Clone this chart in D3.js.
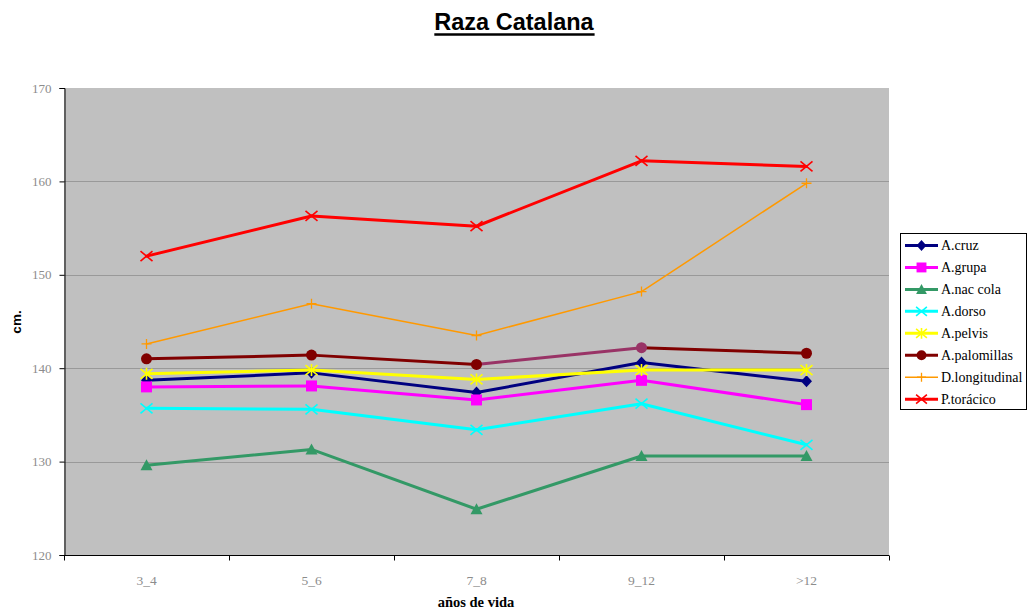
<!DOCTYPE html>
<html>
<head>
<meta charset="utf-8">
<script src="https://cdn.jsdelivr.net/npm/d3@7"></script>
<style>
  html, body { margin: 0; padding: 0; background: #fff; }
  svg { display: block; }
  .serif { font-family: "Liberation Serif", "Times New Roman", "DejaVu Serif", serif; }
  .sans { font-family: "Liberation Sans", Arial, "DejaVu Sans", sans-serif; }
</style>
</head>
<body>
<svg id="chart" width="1034" height="612"></svg>
<script>
// Age groups (años de vida)
const categories = ["3_4", "5_6", "7_8", "9_12", ">12"];

// Body measurements in cm per age group
const seriesNames = ["A.cruz", "A.grupa", "A.nac cola", "A.dorso", "A.pelvis", "A.palomillas", "D.longitudinal", "P.torácico"];
const aCruz        = [138.7, 139.5, 137.4, 140.6, 138.6];
const aGrupa       = [138.0, 138.1, 136.6, 138.7, 136.1];
const aNacCola     = [129.6, 131.3, 124.9, 130.6, 130.6];
const aDorso       = [135.7, 135.6, 133.4, 136.2, 131.8];
const aPelvis      = [139.4, 139.8, 138.8, 139.8, 139.8];
const aPalomillas  = [141.0, 141.4, 140.4, 142.2, 141.6];
const dLongitudinal= [142.6, 146.9, 143.5, 148.2, 159.8];
const pToracico    = [152.0, 156.3, 155.2, 162.2, 161.6];

const yTicks = [120, 130, 140, 150, 160, 170];

const seriesValues = [aCruz, aGrupa, aNacCola, aDorso, aPelvis, aPalomillas, dLongitudinal, pToracico];

// Look of each series
const styles = [
  { color: "#000080", width: 3,   marker: "diamond" },
  { color: "#ff00ff", width: 3,   marker: "square" },
  { color: "#339966", width: 3,   marker: "triangle" },
  { color: "#00ffff", width: 3,   marker: "x" },
  { color: "#ffff00", width: 3,   marker: "asterisk" },
  { color: "#800000", width: 3,   marker: "circle" },
  { color: "#ff9900", width: 1.5, marker: "plus" },
  { color: "#ff0000", width: 3,   marker: "x" }
];
// One point of A.palomillas (and the segment leading to it) carries its own colour
const pointOverride = { series: 5, index: 3, color: "#993366" };

const svg = d3.select("#chart");
const plot = { left: 64, right: 889, top: 88, bottom: 555 };

const x = d3.scaleBand().domain(categories).range([plot.left, plot.right]);
const y = d3.scaleLinear().domain([120, 170]).range([plot.bottom, plot.top]);
const cx = c => x(c) + x.bandwidth() / 2;

// Title
const title = svg.append("text")
  .attr("class", "sans")
  .attr("x", 514).attr("y", 30)
  .attr("text-anchor", "middle")
  .attr("font-weight", "bold")
  .attr("font-size", 23.5)
  .attr("fill", "#000")
  .text("Raza Catalana");
const tb = title.node().getBBox();
svg.append("line")
  .attr("x1", tb.x).attr("x2", tb.x + tb.width)
  .attr("y1", 34.5).attr("y2", 34.5)
  .attr("stroke", "#000").attr("stroke-width", 2.5);

// Plot background
svg.append("rect")
  .attr("x", plot.left).attr("y", plot.top)
  .attr("width", plot.right - plot.left).attr("height", plot.bottom - plot.top)
  .attr("fill", "#c0c0c0");

// Horizontal gridlines
svg.append("g").selectAll("line")
  .data(yTicks.filter(t => t > 120 && t < 170))
  .join("line")
  .attr("x1", plot.left).attr("x2", plot.right)
  .attr("y1", d => Math.round(y(d)) + 0.5).attr("y2", d => Math.round(y(d)) + 0.5)
  .attr("stroke", "#999999").attr("stroke-width", 1);

// Y axis
const yAxis = svg.append("g")
  .attr("transform", `translate(${plot.left + 0.5},0)`)
  .call(d3.axisLeft(y).tickValues(yTicks).tickSize(5).tickPadding(8).tickFormat(d3.format("d")));
yAxis.attr("font-family", null).attr("font-size", null);
yAxis.select(".domain").attr("stroke", "#000");
yAxis.selectAll(".tick line").attr("stroke", "#000");
yAxis.selectAll(".tick text")
  .attr("class", "serif")
  .attr("font-size", 13)
  .attr("fill", "#8c8c8c");

// X axis with ticks at category boundaries
const xAxisG = svg.append("g").attr("transform", `translate(0,${plot.bottom + 0.5})`);
xAxisG.append("line")
  .attr("x1", plot.left).attr("x2", plot.right)
  .attr("stroke", "#000");
const boundaries = categories.map(c => x(c)).concat([x(categories[categories.length - 1]) + x.bandwidth()]);
xAxisG.selectAll("line.tk").data(boundaries).join("line")
  .attr("class", "tk")
  .attr("x1", d => Math.round(d) + 0.5).attr("x2", d => Math.round(d) + 0.5)
  .attr("y1", 0).attr("y2", 5)
  .attr("stroke", "#000");
xAxisG.selectAll("text").data(categories).join("text")
  .attr("class", "serif")
  .attr("x", d => cx(d)).attr("y", 29)
  .attr("text-anchor", "middle")
  .attr("font-size", 13.5)
  .attr("fill", "#8c8c8c")
  .text(d => d);

// Axis titles
svg.append("text")
  .attr("class", "serif")
  .attr("x", 476).attr("y", 607)
  .attr("text-anchor", "middle")
  .attr("font-weight", "bold")
  .attr("font-size", 14.5)
  .text("años de vida");
svg.append("text")
  .attr("class", "sans")
  .attr("transform", "translate(21,322) rotate(-90)")
  .attr("text-anchor", "middle")
  .attr("font-weight", "bold")
  .attr("font-size", 13.5)
  .text("cm.");

// Marker shapes
function drawMarker(g, type, color, px, py, scale = 1) {
  const s = scale;
  switch (type) {
    case "diamond":
      g.append("path").attr("d", `M${px},${py - 6 * s}L${px + 5.5 * s},${py}L${px},${py + 6 * s}L${px - 5.5 * s},${py}Z`).attr("fill", color);
      break;
    case "square":
      g.append("rect").attr("x", px - 5.5 * s).attr("y", py - 5.5 * s).attr("width", 11 * s).attr("height", 11 * s).attr("fill", color);
      break;
    case "triangle":
      g.append("path").attr("d", `M${px},${py - 6 * s}L${px + 6 * s},${py + 5 * s}L${px - 6 * s},${py + 5 * s}Z`).attr("fill", color);
      break;
    case "circle":
      g.append("circle").attr("cx", px).attr("cy", py).attr("r", 5.5 * s).attr("fill", color);
      break;
    case "x":
      g.append("path").attr("d", `M${px - 6 * s},${py - 5 * s}L${px + 6 * s},${py + 5 * s}M${px - 6 * s},${py + 5 * s}L${px + 6 * s},${py - 5 * s}`)
        .attr("stroke", color).attr("stroke-width", 1.6).attr("fill", "none");
      break;
    case "asterisk":
      g.append("path").attr("d", `M${px - 6 * s},${py - 5 * s}L${px + 6 * s},${py + 5 * s}M${px - 6 * s},${py + 5 * s}L${px + 6 * s},${py - 5 * s}M${px},${py - 6 * s}L${px},${py + 6 * s}`)
        .attr("stroke", color).attr("stroke-width", 1.6).attr("fill", "none");
      break;
    case "plus":
      g.append("path").attr("d", `M${px - 5 * s},${py}L${px + 5 * s},${py}M${px},${py - 5 * s}L${px},${py + 5 * s}`)
        .attr("stroke", color).attr("stroke-width", 1.3).attr("fill", "none");
      break;
  }
}

// Series lines and markers
const seriesG = svg.append("g");
seriesValues.forEach((vals, si) => {
  const st = styles[si];
  const g = seriesG.append("g");
  const pts = vals.map((v, i) => [cx(categories[i]), y(v)]);
  for (let i = 0; i < pts.length - 1; i++) {
    const over = pointOverride.series === si && pointOverride.index === i + 1;
    g.append("path")
      .attr("d", d3.line()([pts[i], pts[i + 1]]))
      .attr("stroke", over ? pointOverride.color : st.color)
      .attr("stroke-width", st.width)
      .attr("fill", "none")
      .attr("stroke-linecap", "round");
  }
  pts.forEach((p, i) => {
    const over = pointOverride.series === si && pointOverride.index === i;
    drawMarker(g, st.marker, over ? pointOverride.color : st.color, p[0], p[1]);
  });
});

// Legend
const legend = svg.append("g");
legend.append("rect")
  .attr("x", 900.5).attr("y", 233.5).attr("width", 126).attr("height", 176)
  .attr("fill", "#fff").attr("stroke", "#000").attr("stroke-width", 1);
seriesNames.forEach((name, i) => {
  const st = styles[i];
  const ly = 245.5 + i * 21.95;
  legend.append("line")
    .attr("x1", 905).attr("x2", 938).attr("y1", ly).attr("y2", ly)
    .attr("stroke", st.color).attr("stroke-width", st.width);
  drawMarker(legend, st.marker, st.color, 921.5, ly, 0.9);
  legend.append("text")
    .attr("class", "serif")
    .attr("x", 941).attr("y", ly + 4.5)
    .attr("font-size", 14)
    .attr("fill", "#000")
    .text(name);
});
</script>
</body>
</html>
